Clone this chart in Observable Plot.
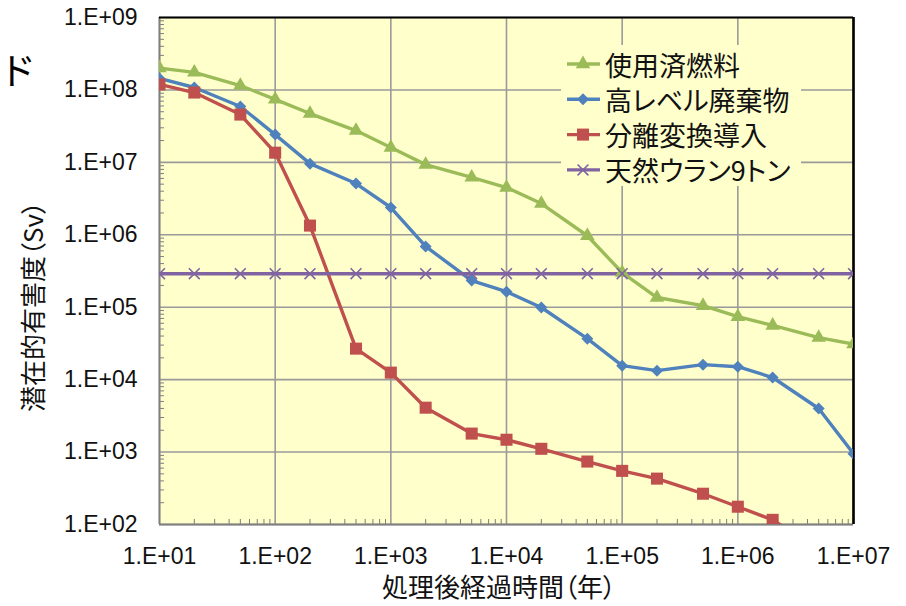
<!DOCTYPE html>
<html><head><meta charset="utf-8">
<script src="https://cdn.jsdelivr.net/npm/d3@7"></script>
<script src="https://cdn.jsdelivr.net/npm/@observablehq/plot@0.6"></script>
<style>
body{margin:0;background:#fff}
#chart{position:relative;width:906px;height:606px}
</style>
</head><body><div id="chart"></div>
<script>
// ---- data ----
const years = [10,20,50,100,200,500,1e3,2e3,5e3,1e4,2e4,5e4,1e5,2e5,5e5,1e6,2e6,5e6,1e7];
const seriesNames = ["使用済燃料","高レベル廃棄物","分離変換導入","天然ウラン9トン"];
const spentFuel = [2.0e8,1.75e8,1.15e8,7.4e7,4.72e7,2.75e7,1.6e7,9.3e6,6.2e6,4.49e6,2.7e6,9.7e5,3.0e5,1.36e5,1.05e5,7.4e4,5.6e4,3.8e4,3.1e4];
const highLevelWaste = [1.44e8,1.08e8,5.9e7,2.42e7,9.6e6,5.1e6,2.38e6,6.9e5,2.33e5,1.64e5,9.9e4,3.68e4,1.56e4,1.33e4,1.61e4,1.51e4,1.07e4,4.0e3,9.5e2];
const partitioning = [1.19e8,9.2e7,4.57e7,1.36e7,1.34e6,2.68e4,1.25e4,4.1e3,1.8e3,1.48e3,1.11e3,7.4e2,5.5e2,4.3e2,2.66e2,1.76e2,1.16e2,45,null];
const naturalUranium = [2.9e5,2.9e5,2.9e5,2.9e5,2.9e5,2.9e5,2.9e5,2.9e5,2.9e5,2.9e5,2.9e5,2.9e5,2.9e5,2.9e5,2.9e5,2.9e5,2.9e5,2.9e5,2.9e5];
const xTicks = [1e1,1e2,1e3,1e4,1e5,1e6,1e7];
const xTickLabels = ["1.E+01","1.E+02","1.E+03","1.E+04","1.E+05","1.E+06","1.E+07"];
const yTicks = [1e2,1e3,1e4,1e5,1e6,1e7,1e8,1e9];
const yTickLabels = ["1.E+02","1.E+03","1.E+04","1.E+05","1.E+06","1.E+07","1.E+08","1.E+09"];
const xTitle = "処理後経過時間（年）";
const yTitle = "潜在的有害度（Sv）";
const titleFragment = "イド";

// ---- styles ----
const colors = ["#9BBB59","#4F81BD","#C0504D","#8064A2"];
const symbols = ["triangle","diamond2","square","times"];
const radii = [5.4,5.4,6.8,5.0];
const valuesList = [spentFuel, highLevelWaste, partitioning, naturalUranium];

const rows = [];
valuesList.forEach((vals, s) => vals.forEach((v, i) => rows.push({series: seriesNames[s], s, year: years[i], value: v})));

function minorTicks(decades){
  const out = [];
  for (let k = 0; k < decades.length - 1; k++) for (let m = 2; m <= 9; m++) out.push(decades[k]*m);
  return out;
}
const xMinor = minorTicks(xTicks);
const yMinor = minorTicks(yTicks);

const W = 906, H = 606, mL = 159, mR = 53, mT = 17, mB = 82;
const fw = W - mL - mR, fh = H - mT - mB;

const lineMarks = [];
const dotMarks = [];
seriesNames.forEach((name, s) => {
  const d = rows.filter(r => r.s === s && r.value != null);
  lineMarks.push(Plot.line(d, {x: "year", y: "value", stroke: colors[s], strokeWidth: 3.4, clip: true}));
  if (symbols[s] === "times") {
    dotMarks.push(Plot.dot(d, {x: "year", y: "value", symbol: "times", r: radii[s], stroke: colors[s], strokeWidth: 1.6, clip: true}));
  } else {
    dotMarks.push(Plot.dot(d, {x: "year", y: "value", symbol: symbols[s], r: radii[s], fill: colors[s], stroke: "none", clip: true}));
  }
});

const svg = Plot.plot({
  width: W, height: H,
  marginLeft: mL, marginRight: mR, marginTop: mT, marginBottom: mB,
  style: {fontFamily: "'Liberation Sans', Arial, sans-serif", fontSize: "23px", color: "#111", background: "#fff"},
  x: {type: "log", domain: [10, 1e7]},
  y: {type: "log", domain: [100, 1e9]},
  marks: [
    Plot.frame({fill: "#FFFFCC", stroke: null}),
    Plot.gridX(xTicks, {stroke: "#9a9a9a", strokeOpacity: 1, strokeWidth: 1.6}),
    Plot.gridY(yTicks, {stroke: "#9a9a9a", strokeOpacity: 1, strokeWidth: 1.6}),
    Plot.ruleX(xMinor, {insetTop: fh - 5, stroke: "#7f7f7f", strokeWidth: 1}),
    Plot.ruleY(yMinor, {insetRight: fw - 5, stroke: "#7f7f7f", strokeWidth: 1}),
    Plot.ruleY([100], {stroke: "#7f7f7f", strokeWidth: 1.8}),
    Plot.ruleX([10], {stroke: "#7f7f7f", strokeWidth: 1.8}),
    Plot.ruleY([1e9], {stroke: "#000", strokeWidth: 2.2}),
    Plot.ruleX([1e7], {stroke: "#000", strokeWidth: 2.6}),
    ...lineMarks,
    ...dotMarks,
    Plot.axisX(xTicks, {tickFormat: d => xTickLabels[xTicks.indexOf(d)], tickSize: 0, tickPadding: 23, label: null, fill: "#111"}),
    Plot.axisY(yTicks, {tickFormat: d => yTickLabels[yTicks.indexOf(d)], tickSize: 0, tickPadding: 22, label: null, fill: "#111"})
  ]
});
document.getElementById("chart").appendChild(svg);

// ---- texts & legend ----
const root = d3.select(svg);
const cjk = "'Noto Sans CJK JP', sans-serif";
root.append("text").text(titleFragment)
  .attr("x", 36).attr("y", 85).attr("text-anchor", "end").style("text-anchor", "end")
  .style("font-family", cjk).style("font-size", "37px").attr("fill", "#000");
root.append("text").text(xTitle)
  .attr("x", 382).attr("y", 597).attr("text-anchor", "start").style("text-anchor", "start")
  .style("font-family", cjk).style("font-size", "26px").style("font-feature-settings", "'palt'").attr("fill", "#111");
root.append("text").text(yTitle)
  .attr("transform", "translate(31,412) rotate(-90)").attr("text-anchor", "start").style("text-anchor", "start").attr("dominant-baseline", "central")
  .style("font-family", cjk).style("font-size", "26px").style("font-feature-settings", "'palt'").attr("fill", "#111");

const leg = root.append("g");
leg.append("rect").attr("x", 561).attr("y", 45).attr("width", 240).attr("height", 141).attr("fill", "#FFFFCC").attr("stroke", "none");
const symMap = {triangle: d3.symbolTriangle, diamond2: d3.symbolDiamond2, square: d3.symbolSquare, times: d3.symbolTimes};
seriesNames.forEach((name, i) => {
  const cy = 64 + i * 35.3;
  leg.append("line").attr("x1", 567).attr("x2", 600).attr("y1", cy).attr("y2", cy)
    .attr("stroke", colors[i]).attr("stroke-width", 3.4);
  const p = leg.append("path").attr("transform", `translate(583,${cy})`)
    .attr("d", d3.symbol(symMap[symbols[i]], Math.PI * radii[i] * radii[i])());
  if (symbols[i] === "times") p.attr("fill", "none").attr("stroke", colors[i]).attr("stroke-width", 1.6);
  else p.attr("fill", colors[i]).attr("stroke", "none");
  leg.append("text").text(name).attr("x", 605).attr("y", cy).attr("dominant-baseline", "central")
    .attr("text-anchor", "start").style("text-anchor", "start")
    .style("font-family", cjk).style("font-size", "27px").style("font-feature-settings", "'palt'").attr("fill", "#111");
});
</script>
</body></html>
